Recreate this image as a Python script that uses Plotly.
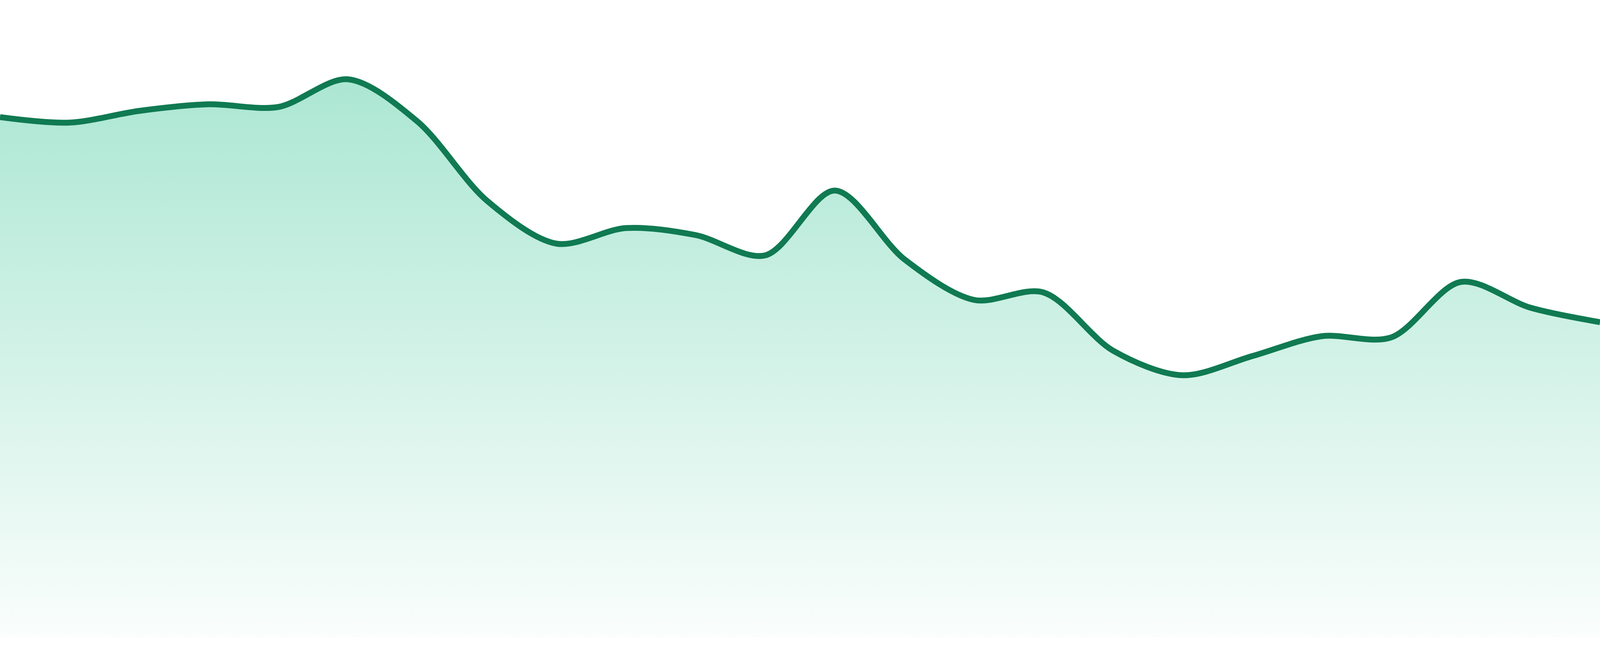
import plotly.graph_objects as go

# sparkline samples, evenly spaced
points = list(range(24))
values = [133.2, 131.8, 134.8, 136.5, 135.8, 142.9, 132.1, 111.8,
          100.8, 104.8, 103.0, 97.8, 114.4, 96.8, 86.4, 88.3,
          73.4, 67.1, 72.0, 77.1, 76.8, 91.0, 84.4, 80.7]

LINE = '#107a52'
Y_TOP = 163.2

fig = go.Figure()
fig.add_trace(go.Scatter(
    x=points,
    y=values,
    mode='lines',
    line=dict(color=LINE, width=15, shape='spline', smoothing=0.9),
    fill='tozeroy',
    fillgradient=dict(
        type='vertical',
        start=0,
        stop=max(values),
        colorscale=[[0, 'rgba(16,185,129,0.02)'], [1, 'rgba(16,185,129,0.35)']],
    ),
    hoverinfo='skip',
    showlegend=False,
))

fig.update_layout(
    autosize=True,
    margin=dict(l=0, r=0, t=0, b=48),
    paper_bgcolor='white',
    plot_bgcolor='white',
    xaxis=dict(visible=False, range=[0, len(points) - 1], fixedrange=True),
    yaxis=dict(visible=False, range=[0, Y_TOP], fixedrange=True),
)

# fill the whole window, no page margin
fix_page = (
    "document.body.style.margin='0';"
    "document.body.style.overflow='hidden';"
    "Plotly.Plots.resize(document.getElementById('{plot_id}'));"
)

fig.write_html('out.html', default_width='100vw', default_height='100vh',
               config={'responsive': True, 'displayModeBar': False},
               post_script=fix_page)
